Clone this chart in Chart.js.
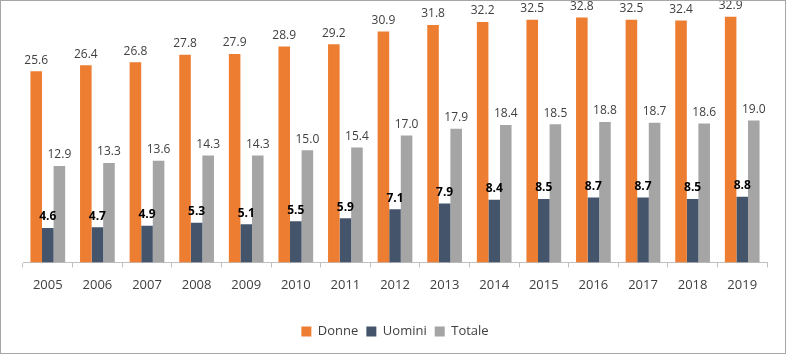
<!DOCTYPE html>
<html>
<head>
<meta charset="utf-8">
<script src="https://cdn.jsdelivr.net/npm/chart.js@4"></script>
<style>
  body { margin: 0; background: #fff; }
  #wrap { width: 786px; height: 354px; box-sizing: border-box; border: 1px solid #a6a6a6; }
</style>
</head>
<body>
<div id="wrap"><canvas id="chart" width="784" height="352"></canvas></div>
<script>
// data
const years = ['2005','2006','2007','2008','2009','2010','2011','2012','2013','2014','2015','2016','2017','2018','2019'];
const donne = [25.6, 26.4, 26.8, 27.8, 27.9, 28.9, 29.2, 30.9, 31.8, 32.2, 32.5, 32.8, 32.5, 32.4, 32.9];
const uomini = [4.6, 4.7, 4.9, 5.3, 5.1, 5.5, 5.9, 7.1, 7.9, 8.4, 8.5, 8.7, 8.7, 8.5, 8.8];
const totale = [12.9, 13.3, 13.6, 14.3, 14.3, 15.0, 15.4, 17.0, 17.9, 18.4, 18.5, 18.8, 18.7, 18.6, 19.0];

const font = '"Open Sans", sans-serif';

// draws the value above each bar
const valueLabels = {
    id: 'valueLabels',
    afterDatasetsDraw(chart) {
        const ctx = chart.ctx;
        ctx.save();
        ctx.textAlign = 'center';
        ctx.textBaseline = 'bottom';
        chart.data.datasets.forEach((ds, i) => {
            const meta = chart.getDatasetMeta(i);
            const bold = i === 1;
            ctx.font = (bold ? 'bold ' : '') + '12px ' + font;
            ctx.fillStyle = bold ? '#000' : '#404040';
            meta.data.forEach((bar, j) => {
                ctx.fillText(ds.data[j].toFixed(1), bar.x, bar.y - 5);
            });
        });
        ctx.restore();
    }
};

new Chart(document.getElementById('chart'), {
    type: 'bar',
    data: {
        labels: years,
        datasets: [
            { label: 'Donne', data: donne, backgroundColor: '#ED7D31' },
            { label: 'Uomini', data: uomini, backgroundColor: '#44546A' },
            { label: 'Totale', data: totale, backgroundColor: '#A5A5A5' }
        ]
    },
    options: {
        responsive: false,
        animation: false,
        layout: { padding: { left: 22, right: 18, top: 0, bottom: 5 } },
        datasets: { bar: { barPercentage: 1, categoryPercentage: 0.7 } },
        scales: {
            x: {
                grid: { drawOnChartArea: false, tickLength: 5, color: '#bfbfbf' },
                border: { color: '#bfbfbf' },
                ticks: { color: '#404040', font: { family: font, size: 13 }, padding: 10 },
                afterFit(scale) { scale.height += 14; } // gap above legend
            },
            y: { display: false, min: 0, max: 35 }
        },
        plugins: {
            legend: {
                position: 'bottom',
                labels: {
                    boxWidth: 10, boxHeight: 10, padding: 8,
                    color: '#404040', font: { family: font, size: 13 }
                }
            },
            tooltip: { enabled: false }
        }
    },
    plugins: [valueLabels]
});
</script>
</body>
</html>
